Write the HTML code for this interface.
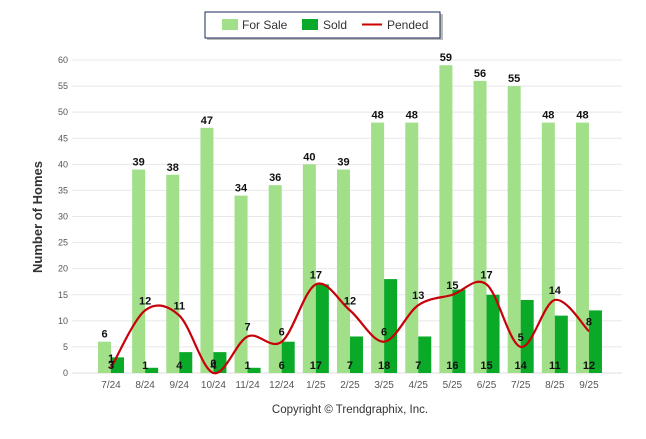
<!DOCTYPE html>
<html><head><meta charset="utf-8"><style>
body{margin:0;background:#fff;width:646px;height:434px;overflow:hidden;font-family:"Liberation Sans",sans-serif}
</style></head><body>
<svg width="646" height="434" id="c">
<g>
<rect x="207" y="14" width="236" height="26" fill="#777" opacity="0.5"/>
<rect x="205" y="12" width="235" height="26" fill="#fff" stroke="#1a2a5a" stroke-width="1"/>
<rect x="222" y="19" width="16" height="11" fill="#a1df89"/>
<text x="242" y="29" font-size="12" fill="#333">For Sale</text>
<rect x="302" y="19" width="16" height="11" fill="#0aa928"/>
<text x="323" y="29" font-size="12" fill="#333">Sold</text>
<line x1="362" y1="24.5" x2="382" y2="24.5" stroke="#c00" stroke-width="2"/>
<text x="387" y="29" font-size="12" fill="#333">Pended</text>
</g>
<text transform="translate(42,217) rotate(-90)" text-anchor="middle" font-size="13" font-weight="bold" fill="#333">Number of Homes</text>
<text x="350" y="413" text-anchor="middle" font-size="11.5" fill="#333">Copyright © Trendgraphix, Inc.</text>
<g id="grid"></g><g id="bars"></g><g id="line"></g><g id="labels"></g>
</svg>
<script>
const categories=["7/24","8/24","9/24","10/24","11/24","12/24","1/25","2/25","3/25","4/25","5/25","6/25","7/25","8/25","9/25"];
const forSale=[6,39,38,47,34,36,40,39,48,48,59,56,55,48,48];
const sold=[3,1,4,4,1,6,17,7,18,7,16,15,14,11,12];
const pended=[1,12,11,0,7,6,17,12,6,13,15,17,5,14,8];
const yTicks=[0,5,10,15,20,25,30,35,40,45,50,55,60];
const NS="http://www.w3.org/2000/svg";
const y=v=>373-v*(313/60);
const x=i=>111+i*34.14;
function mk(t,a,p){const e=document.createElementNS(NS,t);for(const k in a)e.setAttribute(k,a[k]);p.appendChild(e);return e;}
const grid=document.getElementById('grid'),bars=document.getElementById('bars'),line=document.getElementById('line'),labels=document.getElementById('labels');
yTicks.forEach(v=>{
 const l=mk('line',{x1:72,x2:622,y1:y(v),y2:y(v),stroke:v?'#e8e8e8':'#ddd'},grid);
 
 
 const t=mk('text',{x:68,y:y(v)+3,'text-anchor':'end','font-size':9,fill:'#555'},grid);t.textContent=v;
 
 
});
categories.forEach((c,i)=>{
 const t=mk('text',{x:x(i),y:388,'text-anchor':'middle','font-size':10,fill:'#555'},grid);t.textContent=c;
 
 
 const b1=mk('rect',{x:x(i)-13,y:y(forSale[i]),width:13,height:373-y(forSale[i]),fill:'#a1df89'},bars);
 
 
 const b2=mk('rect',{x:x(i),y:y(sold[i]),width:13,height:373-y(sold[i]),fill:'#0aa928'},bars);
 
 
 const l1=mk('text',{x:x(i)-6.5,y:y(forSale[i])-4,'text-anchor':'middle','font-size':11,'font-weight':'bold',fill:'#111'},labels);l1.textContent=forSale[i];
 
 
 const l2=mk('text',{x:x(i),y:369,'text-anchor':'middle','font-size':11,'font-weight':'bold',fill:'#111'},labels);l2.textContent=sold[i];
 
 
 const l3=mk('text',{x:x(i),y:y(pended[i])-6,'text-anchor':'middle','font-size':11,'font-weight':'bold',fill:'#111'},labels);l3.textContent=pended[i];
 
 
});
const pts=pended.map((v,i)=>[x(i),y(v)]);
let d='M'+pts[0][0]+','+pts[0][1];
for(let i=0;i<pts.length-1;i++){
 const p0=pts[Math.max(i-1,0)],p1=pts[i],p2=pts[i+1],p3=pts[Math.min(i+2,pts.length-1)];
 const k=1/6;
 d+=` C${p1[0]+(p2[0]-p0[0])*k},${p1[1]+(p2[1]-p0[1])*k} ${p2[0]-(p3[0]-p1[0])*k},${p2[1]-(p3[1]-p1[1])*k} ${p2[0]},${p2[1]}`;
}
const path=mk('path',{d:d,fill:'none',stroke:'#c8000a','stroke-width':2.2},line);


</script>
</body></html>
